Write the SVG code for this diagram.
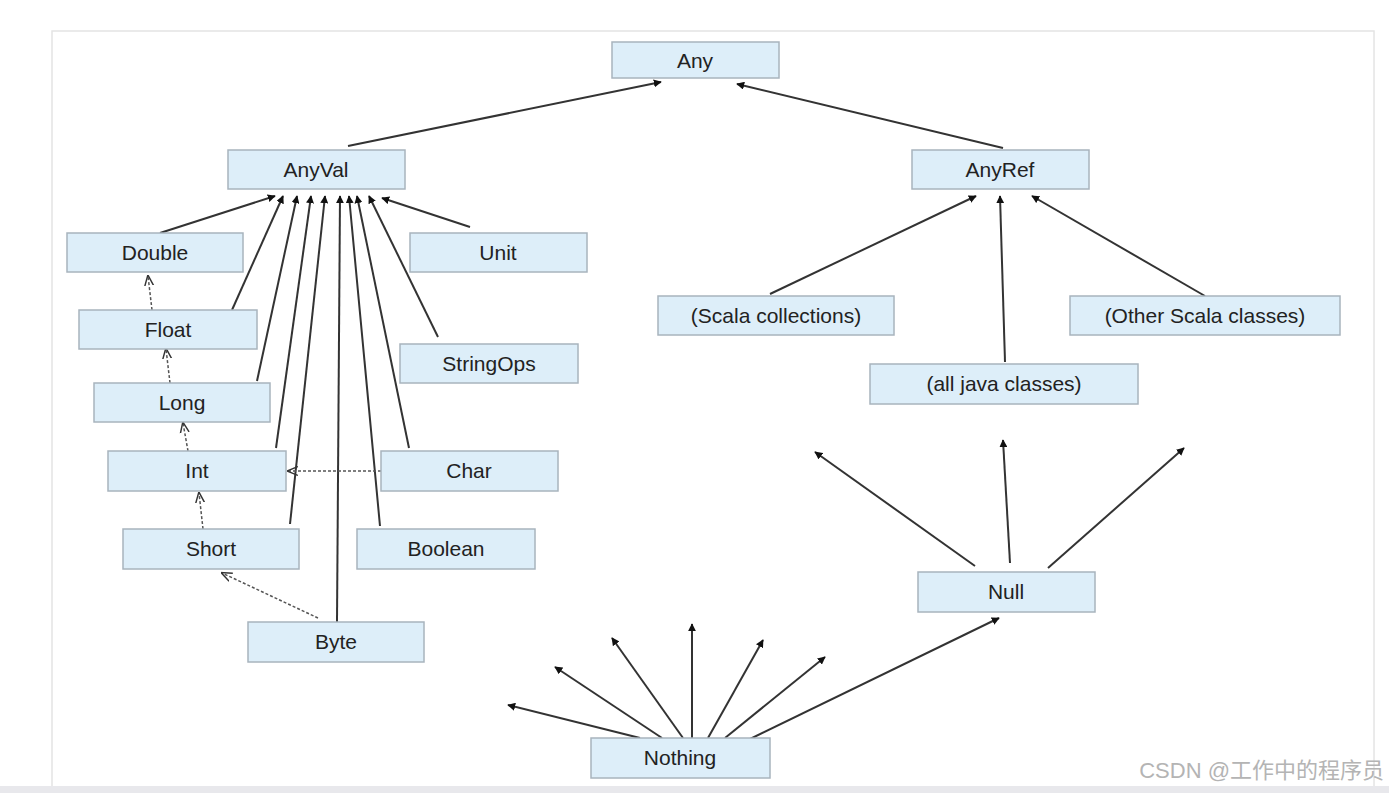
<svg xmlns="http://www.w3.org/2000/svg" width="1389" height="793" viewBox="0 0 1389 793">
<style>
.n rect{fill:#ddeef9;stroke:#a8b4bd;stroke-width:1.5}
.n text{font-family:"Liberation Sans",Arial,sans-serif;font-size:21px;fill:#222;text-anchor:middle}
.s{stroke:#333;stroke-width:2;fill:none;marker-end:url(#a)}
.d{stroke:#555;stroke-width:1.5;stroke-dasharray:3 2;fill:none;marker-end:url(#o)}
</style>
<defs>
<marker id="a" viewBox="0 0 10 10" refX="9" refY="5" markerWidth="8" markerHeight="8" markerUnits="userSpaceOnUse" orient="auto"><path d="M0,0L10,5L0,10z" fill="#111"/></marker>
<marker id="o" viewBox="0 0 10 10" refX="9" refY="5" markerWidth="11" markerHeight="11" markerUnits="userSpaceOnUse" orient="auto"><path d="M0,1L10,5L0,9" fill="none" stroke="#333" stroke-width="1.3"/></marker>
</defs>
<rect width="1389" height="793" fill="#fff"/>
<rect x="52" y="31" width="1322" height="770" fill="#fff" stroke="#e4e4e4" stroke-width="1.5"/>
<rect x="0" y="786" width="1389" height="7" fill="#e8e8ec"/>
<g id="connectors">
<line class="s" x1="348" y1="146" x2="661" y2="82" style="marker-end:url(#a)" marker-end="url(#a)"/>
<line class="s" x1="1003" y1="148" x2="737" y2="84"/>
<line class="s" x1="160" y1="233" x2="275" y2="196"/>
<line class="s" x1="232" y1="310" x2="283" y2="196"/>
<line class="s" x1="257" y1="381" x2="297" y2="196"/>
<line class="s" x1="276" y1="448" x2="311" y2="196"/>
<line class="s" x1="290" y1="524" x2="325" y2="196"/>
<line class="s" x1="337" y1="622" x2="340" y2="196"/>
<line class="s" x1="380" y1="526" x2="349" y2="196"/>
<line class="s" x1="409" y1="448" x2="357" y2="196"/>
<line class="s" x1="438" y1="337" x2="369" y2="196"/>
<line class="s" x1="470" y1="227" x2="382" y2="198"/>
<line class="s" x1="770" y1="294" x2="976" y2="196"/>
<line class="s" x1="1005" y1="362" x2="1000" y2="196"/>
<line class="s" x1="1205" y1="296" x2="1032" y2="196"/>
<line class="s" x1="975" y1="566" x2="815" y2="452"/>
<line class="s" x1="1010" y1="563" x2="1003" y2="440"/>
<line class="s" x1="1048" y1="568" x2="1184" y2="448"/>
<line class="s" x1="748" y1="740" x2="999" y2="618"/>
<line class="s" x1="725" y1="738" x2="825" y2="657"/>
<line class="s" x1="708" y1="738" x2="763" y2="640"/>
<line class="s" x1="692" y1="738" x2="692" y2="624"/>
<line class="s" x1="683" y1="738" x2="612" y2="638"/>
<line class="s" x1="662" y1="738" x2="555" y2="667"/>
<line class="s" x1="640" y1="738" x2="508" y2="705"/>
<line class="d" x1="152" y1="310" x2="148" y2="276"/>
<line class="d" x1="170" y1="383" x2="166" y2="349"/>
<line class="d" x1="188" y1="451" x2="183" y2="423"/>
<line class="d" x1="203" y1="529" x2="199" y2="493"/>
<line class="d" x1="381" y1="471" x2="288" y2="471"/>
<line class="d" x1="318" y1="618" x2="222" y2="573"/>
</g>
<g id="Any" class="n"><rect x="612" y="42" width="167" height="36"/><text x="695" y="68">Any</text></g>
<g id="AnyVal" class="n"><rect x="228" y="150" width="177" height="39"/><text x="316" y="177">AnyVal</text></g>
<g id="AnyRef" class="n"><rect x="912" y="150" width="177" height="39"/><text x="1000" y="177">AnyRef</text></g>
<g id="Double" class="n"><rect x="67" y="233" width="176" height="39"/><text x="155" y="260">Double</text></g>
<g id="Unit" class="n"><rect x="410" y="233" width="177" height="39"/><text x="498" y="260">Unit</text></g>
<g id="Float" class="n"><rect x="79" y="310" width="178" height="39"/><text x="168" y="337">Float</text></g>
<g id="StringOps" class="n"><rect x="400" y="344" width="178" height="39"/><text x="489" y="371">StringOps</text></g>
<g id="Long" class="n"><rect x="94" y="383" width="176" height="39"/><text x="182" y="410">Long</text></g>
<g id="Int" class="n"><rect x="108" y="451" width="178" height="40"/><text x="197" y="478">Int</text></g>
<g id="Char" class="n"><rect x="381" y="451" width="177" height="40"/><text x="469" y="478">Char</text></g>
<g id="Short" class="n"><rect x="123" y="529" width="176" height="40"/><text x="211" y="556">Short</text></g>
<g id="Boolean" class="n"><rect x="357" y="529" width="178" height="40"/><text x="446" y="556">Boolean</text></g>
<g id="Byte" class="n"><rect x="248" y="622" width="176" height="40"/><text x="336" y="649">Byte</text></g>
<g id="ScalaCollections" class="n"><rect x="658" y="296" width="236" height="39"/><text x="776" y="323">(Scala collections)</text></g>
<g id="OtherScalaClasses" class="n"><rect x="1070" y="296" width="270" height="39"/><text x="1205" y="323">(Other Scala classes)</text></g>
<g id="AllJavaClasses" class="n"><rect x="870" y="364" width="268" height="40"/><text x="1004" y="391">(all java classes)</text></g>
<g id="Null" class="n"><rect x="918" y="572" width="177" height="40"/><text x="1006" y="599">Null</text></g>
<g id="Nothing" class="n"><rect x="591" y="738" width="179" height="40"/><text x="680" y="765">Nothing</text></g>
<text x="1384" y="778" text-anchor="end" font-family="'Liberation Sans','Noto Sans CJK SC',sans-serif" font-size="22" fill="#b4b4b4">CSDN @工作中的程序员</text>
</svg>
